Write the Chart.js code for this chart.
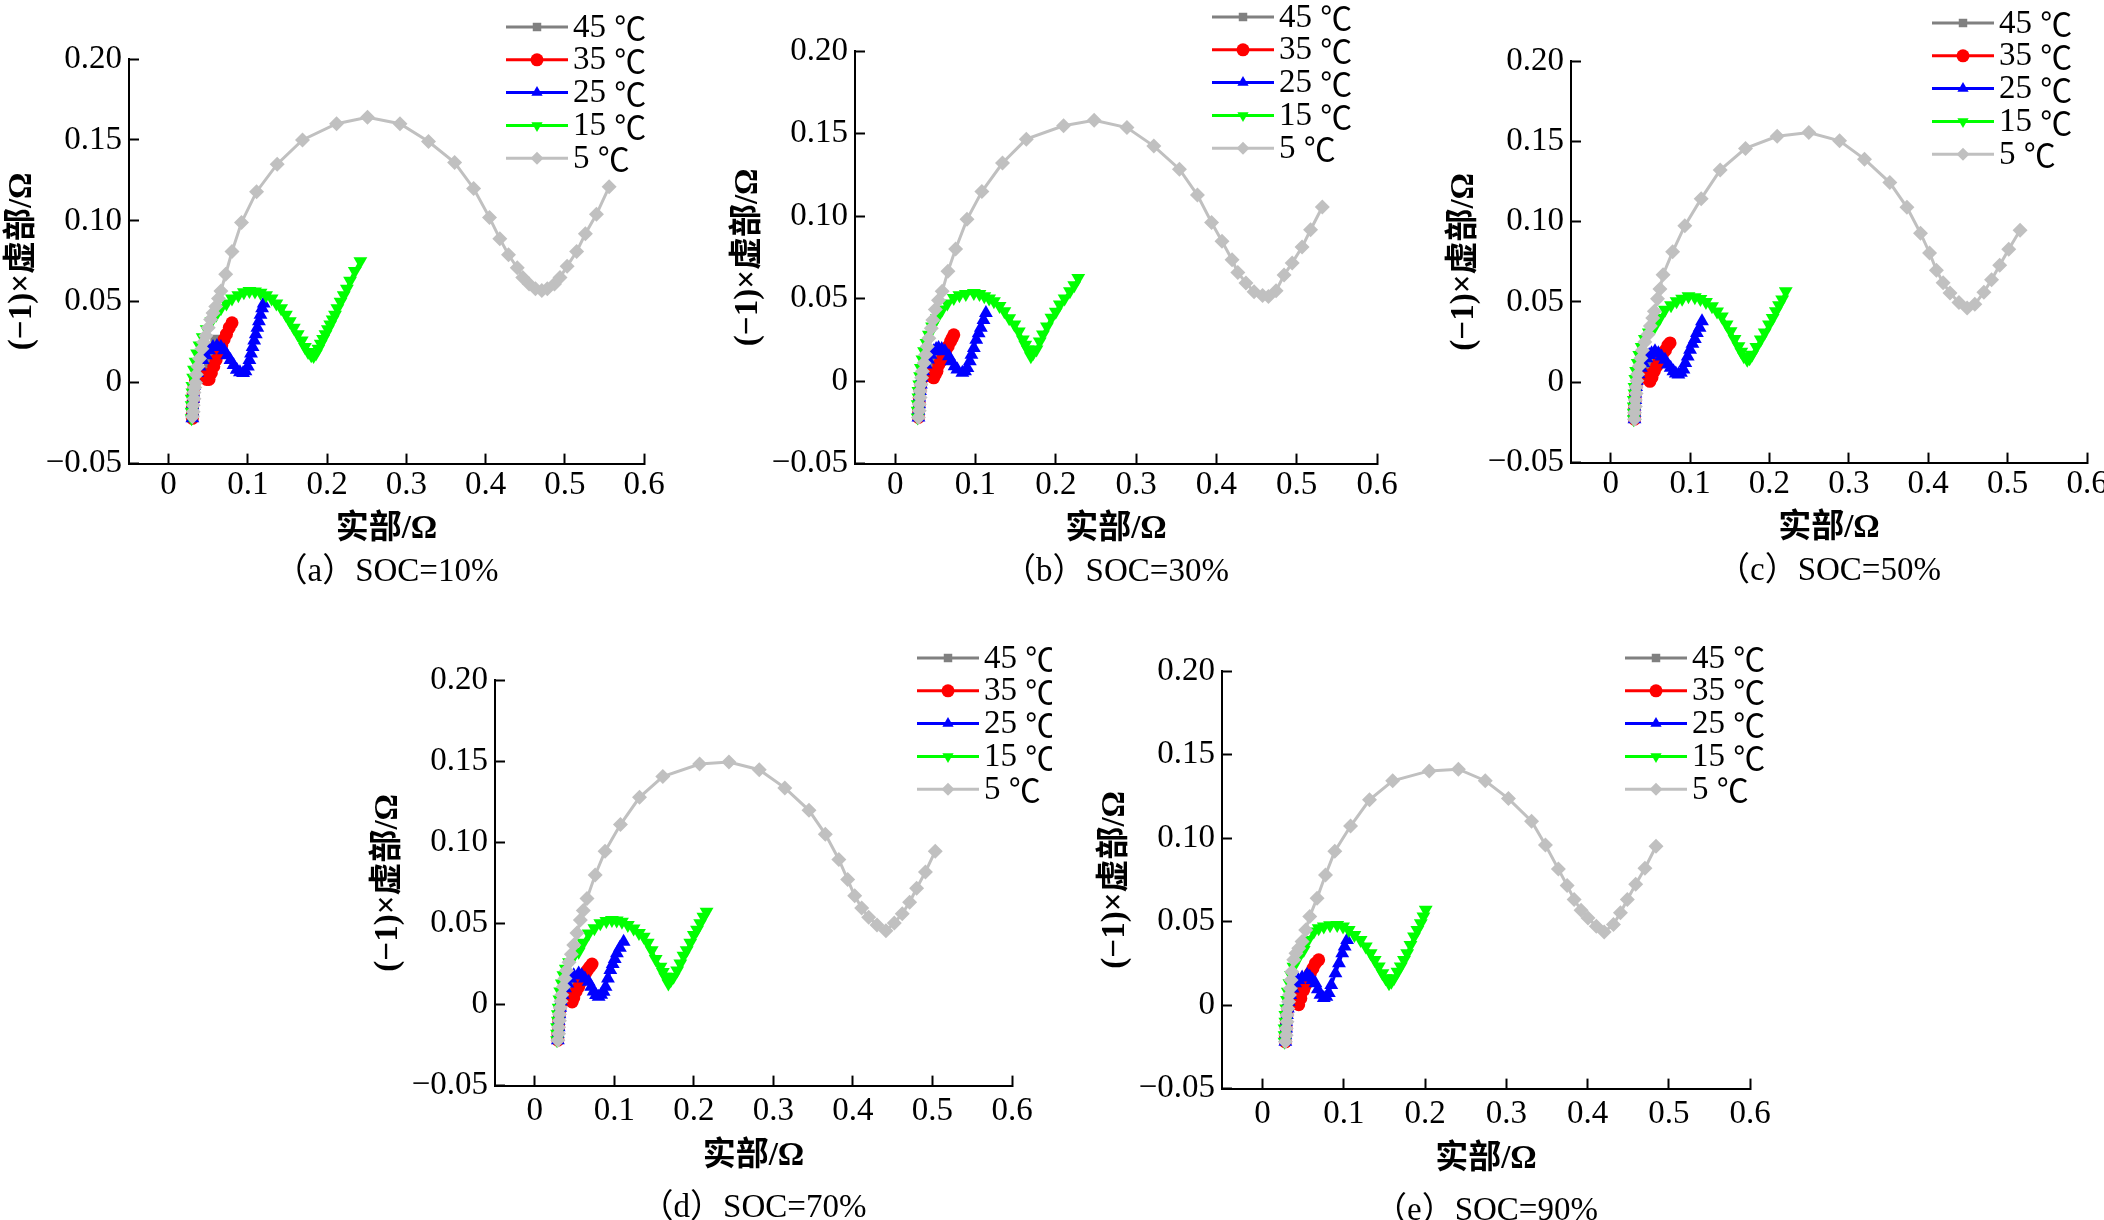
<!DOCTYPE html>
<html lang="zh">
<head>
<meta charset="utf-8">
<title>不同SOC下的阻抗谱</title>
<script src="https://cdn.jsdelivr.net/npm/chart.js@4.4.1/dist/chart.umd.min.js"></script>
<style>
  html, body { margin: 0; padding: 0; background: #fff; }
  body { width: 2104px; height: 1220px; overflow: hidden; position: relative; }
  canvas { position: absolute; }
</style>
</head>
<body>
<canvas id="soc10"></canvas>
<canvas id="soc30"></canvas>
<canvas id="soc50"></canvas>
<canvas id="soc70"></canvas>
<canvas id="soc90"></canvas>
<script>
// legend / axis text
const seriesLabels = ['45 ℃', '35 ℃', '25 ℃', '15 ℃', '5 ℃'];
const captions = ['（a）SOC=10%', '（b）SOC=30%', '（c）SOC=50%', '（d）SOC=70%', '（e）SOC=90%'];
const xTicks = [0, 0.1, 0.2, 0.3, 0.4, 0.5, 0.6];
const xTickLabels = ['0', '0.1', '0.2', '0.3', '0.4', '0.5', '0.6'];
const yTicks = [-0.05, 0, 0.05, 0.1, 0.15, 0.2];
const yTickLabels = ['−0.05', '0', '0.05', '0.10', '0.15', '0.20'];

// SOC = 10%  [real, -imag]
const soc10_45 = [[0.030,-0.022],[0.030,-0.019],[0.030,-0.016],[0.031,-0.012],[0.031,-0.008],[0.032,-0.004],[0.033,-0.001],[0.035,0.002],[0.038,0.004],[0.041,0.004],[0.044,0.003],[0.046,0.004],[0.048,0.007],[0.050,0.011],[0.052,0.015],[0.054,0.019],[0.056,0.022],[0.058,0.025],[0.059,0.027]];
const soc10_35 = [[0.030,-0.022],[0.030,-0.019],[0.030,-0.015],[0.031,-0.011],[0.031,-0.007],[0.032,-0.003],[0.034,0.001],[0.036,0.004],[0.039,0.006],[0.042,0.006],[0.045,0.004],[0.048,0.002],[0.051,0.002],[0.054,0.006],[0.057,0.010],[0.060,0.014],[0.064,0.0185],[0.067,0.023],[0.070,0.0267],[0.073,0.030],[0.0765,0.034],[0.080,0.037]];
const soc10_25 = [[0.030,-0.022],[0.030,-0.018],[0.030,-0.014],[0.031,-0.010],[0.031,-0.006],[0.032,-0.002],[0.034,0.002],[0.036,0.006],[0.039,0.010],[0.043,0.014],[0.047,0.017],[0.051,0.020],[0.056,0.022],[0.061,0.0226],[0.066,0.022],[0.070,0.020],[0.074,0.017],[0.078,0.014],[0.082,0.011],[0.086,0.008],[0.090,0.0065],[0.094,0.006],[0.097,0.007],[0.100,0.010],[0.102,0.014],[0.104,0.018],[0.106,0.022],[0.108,0.026],[0.110,0.030],[0.112,0.034],[0.114,0.038],[0.116,0.042],[0.118,0.046],[0.120,0.049]];
const soc10_15 = [[0.029,-0.022],[0.029,-0.018],[0.029,-0.014],[0.029,-0.010],[0.030,-0.006],[0.030,-0.002],[0.031,0.003],[0.032,0.008],[0.034,0.013],[0.036,0.018],[0.039,0.023],[0.043,0.028],[0.048,0.033],[0.054,0.038],[0.060,0.042],[0.066,0.046],[0.073,0.049],[0.080,0.052],[0.088,0.054],[0.095,0.0558],[0.102,0.0566],[0.109,0.0564],[0.116,0.0556],[0.123,0.054],[0.130,0.052],[0.136,0.049],[0.142,0.046],[0.148,0.042],[0.153,0.038],[0.158,0.034],[0.163,0.030],[0.168,0.026],[0.172,0.022],[0.176,0.019],[0.180,0.017],[0.183,0.0165],[0.186,0.018],[0.189,0.021],[0.192,0.024],[0.195,0.027],[0.198,0.030],[0.201,0.033],[0.204,0.036],[0.207,0.039],[0.210,0.042],[0.213,0.046],[0.217,0.050],[0.221,0.054],[0.225,0.058],[0.229,0.063],[0.235,0.069],[0.242,0.075]];
const soc10_5 = [[0.030,-0.021],[0.031,-0.018],[0.031,-0.014],[0.032,-0.010],[0.032,-0.006],[0.033,-0.003],[0.034,0.000],[0.035,0.005],[0.037,0.010],[0.039,0.015],[0.042,0.021],[0.044,0.025],[0.047,0.029],[0.050,0.034],[0.053,0.039],[0.056,0.043],[0.0595,0.047],[0.063,0.052],[0.066,0.0566],[0.072,0.067],[0.080,0.081],[0.092,0.099],[0.111,0.118],[0.137,0.135],[0.169,0.150],[0.212,0.160],[0.251,0.164],[0.292,0.160],[0.328,0.149],[0.361,0.136],[0.385,0.120],[0.405,0.102],[0.418,0.089],[0.429,0.079],[0.440,0.071],[0.447,0.065],[0.455,0.061],[0.463,0.058],[0.471,0.057],[0.478,0.058],[0.487,0.061],[0.494,0.065],[0.503,0.072],[0.515,0.081],[0.526,0.092],[0.540,0.104],[0.556,0.121]];

// SOC = 30%
const soc30_45 = [[0.029,-0.022],[0.029,-0.018],[0.030,-0.014],[0.030,-0.010],[0.031,-0.006],[0.032,-0.002],[0.034,0.001],[0.036,0.003],[0.039,0.004],[0.042,0.003],[0.044,0.003],[0.046,0.006],[0.048,0.010],[0.050,0.014],[0.052,0.017]];
const soc30_35 = [[0.029,-0.022],[0.029,-0.018],[0.030,-0.014],[0.030,-0.010],[0.031,-0.006],[0.032,-0.002],[0.034,0.002],[0.036,0.005],[0.039,0.006],[0.042,0.005],[0.045,0.003],[0.048,0.002],[0.050,0.004],[0.052,0.006],[0.0544,0.010],[0.057,0.012],[0.060,0.015],[0.0628,0.018],[0.066,0.021],[0.069,0.024],[0.071,0.026],[0.073,0.028]];
const soc30_25 = [[0.029,-0.022],[0.029,-0.018],[0.030,-0.014],[0.030,-0.010],[0.031,-0.006],[0.032,-0.002],[0.033,0.002],[0.035,0.006],[0.038,0.010],[0.041,0.013],[0.044,0.016],[0.048,0.018],[0.051,0.0195],[0.054,0.020],[0.058,0.0195],[0.062,0.018],[0.067,0.015],[0.070,0.012],[0.074,0.009],[0.0774,0.007],[0.0837,0.005],[0.087,0.006],[0.090,0.008],[0.093,0.012],[0.095,0.016],[0.098,0.020],[0.101,0.025],[0.104,0.029],[0.1067,0.0323],[0.110,0.037],[0.113,0.0413]];
const soc30_15 = [[0.028,-0.022],[0.028,-0.018],[0.028,-0.014],[0.029,-0.010],[0.029,-0.006],[0.030,-0.002],[0.031,0.003],[0.032,0.008],[0.034,0.013],[0.036,0.018],[0.039,0.023],[0.042,0.028],[0.046,0.033],[0.052,0.038],[0.0586,0.0433],[0.065,0.047],[0.073,0.0504],[0.080,0.052],[0.088,0.0528],[0.098,0.0534],[0.105,0.0528],[0.111,0.0514],[0.117,0.050],[0.123,0.0484],[0.130,0.0455],[0.136,0.0423],[0.142,0.038],[0.1485,0.0343],[0.154,0.030],[0.159,0.0252],[0.162,0.022],[0.165,0.0192],[0.169,0.0151],[0.172,0.017],[0.176,0.0192],[0.180,0.024],[0.184,0.0282],[0.189,0.033],[0.1946,0.0383],[0.200,0.042],[0.205,0.0464],[0.211,0.050],[0.2176,0.0544],[0.223,0.058],[0.228,0.0625]];
const soc30_5 = [[0.029,-0.022],[0.030,-0.018],[0.030,-0.014],[0.031,-0.010],[0.031,-0.006],[0.032,-0.002],[0.033,0.002],[0.034,0.006],[0.036,0.011],[0.038,0.016],[0.040,0.021],[0.042,0.026],[0.045,0.032],[0.047,0.037],[0.050,0.0433],[0.054,0.049],[0.0586,0.0544],[0.0657,0.0665],[0.0753,0.080],[0.0895,0.098],[0.108,0.1148],[0.1337,0.1321],[0.1633,0.1466],[0.2097,0.1547],[0.2478,0.158],[0.2886,0.1536],[0.3221,0.1424],[0.354,0.1284],[0.3764,0.1127],[0.394,0.0961],[0.407,0.0847],[0.4195,0.0735],[0.4267,0.0658],[0.4368,0.0595],[0.4469,0.0541],[0.4575,0.0518],[0.4648,0.0513],[0.4743,0.0548],[0.4843,0.0642],[0.4944,0.0716],[0.5067,0.0812],[0.5173,0.0917],[0.5319,0.1055]];

// SOC = 50%
const soc50_45 = [[0.030,-0.023],[0.030,-0.019],[0.030,-0.015],[0.031,-0.011],[0.031,-0.007],[0.032,-0.003],[0.034,0.001],[0.036,0.003],[0.039,0.004],[0.042,0.003],[0.044,0.002],[0.046,0.005],[0.047,0.008],[0.048,0.011],[0.050,0.015]];
const soc50_35 = [[0.030,-0.023],[0.030,-0.019],[0.030,-0.015],[0.031,-0.011],[0.031,-0.007],[0.032,-0.003],[0.034,0.001],[0.036,0.004],[0.039,0.005],[0.042,0.005],[0.045,0.003],[0.0494,0.0006],[0.052,0.003],[0.055,0.007],[0.058,0.010],[0.061,0.013],[0.0635,0.016],[0.0663,0.0183],[0.069,0.020],[0.072,0.023],[0.0748,0.0245]];
const soc50_25 = [[0.030,-0.023],[0.030,-0.019],[0.030,-0.015],[0.031,-0.011],[0.031,-0.007],[0.032,-0.003],[0.033,0.001],[0.035,0.005],[0.038,0.009],[0.041,0.012],[0.045,0.015],[0.0485,0.017],[0.0515,0.018],[0.0558,0.0193],[0.060,0.018],[0.064,0.016],[0.0684,0.0141],[0.072,0.011],[0.0755,0.009],[0.079,0.0068],[0.082,0.0055],[0.0853,0.0048],[0.0885,0.006],[0.0917,0.0079],[0.094,0.012],[0.097,0.016],[0.100,0.0203],[0.103,0.024],[0.106,0.027],[0.1086,0.0307],[0.112,0.034],[0.115,0.038]];
const soc50_15 = [[0.029,-0.023],[0.029,-0.019],[0.029,-0.015],[0.029,-0.011],[0.030,-0.007],[0.030,-0.003],[0.031,0.002],[0.032,0.007],[0.034,0.012],[0.036,0.017],[0.039,0.022],[0.043,0.027],[0.048,0.031],[0.0558,0.0349],[0.062,0.040],[0.0684,0.0452],[0.076,0.048],[0.083,0.0504],[0.090,0.052],[0.098,0.0535],[0.106,0.053],[0.113,0.0519],[0.120,0.050],[0.1276,0.0473],[0.134,0.044],[0.140,0.041],[0.146,0.036],[0.151,0.0317],[0.156,0.027],[0.161,0.0224],[0.1645,0.019],[0.1677,0.0162],[0.172,0.0141],[0.175,0.015],[0.178,0.0172],[0.1835,0.022],[0.189,0.0266],[0.194,0.031],[0.1994,0.0359],[0.204,0.040],[0.208,0.0442],[0.212,0.048],[0.216,0.0515],[0.2205,0.0566]];
const soc50_5 = [[0.030,-0.023],[0.030,-0.019],[0.031,-0.015],[0.031,-0.011],[0.032,-0.007],[0.032,-0.003],[0.033,0.001],[0.034,0.005],[0.036,0.010],[0.038,0.015],[0.040,0.020],[0.043,0.025],[0.047,0.0297],[0.050,0.035],[0.053,0.040],[0.055,0.0442],[0.059,0.052],[0.062,0.058],[0.066,0.067],[0.078,0.0812],[0.0934,0.0975],[0.114,0.1143],[0.1379,0.1321],[0.1698,0.1456],[0.2097,0.1531],[0.2496,0.1555],[0.2883,0.1503],[0.3197,0.1389],[0.3516,0.1243],[0.3732,0.1089],[0.3903,0.0928],[0.4017,0.0805],[0.4103,0.0698],[0.4188,0.062],[0.4274,0.0556],[0.4387,0.0497],[0.449,0.0462],[0.4587,0.0485],[0.4701,0.0561],[0.4798,0.0639],[0.49,0.0729],[0.5014,0.0828],[0.5157,0.0947]];

// SOC = 70%
const soc70_45 = [[0.029,-0.022],[0.029,-0.018],[0.030,-0.014],[0.030,-0.010],[0.031,-0.006],[0.032,-0.002],[0.034,0.001],[0.036,0.003],[0.039,0.004],[0.042,0.003],[0.044,0.002],[0.046,0.005],[0.047,0.008],[0.048,0.011],[0.050,0.015]];
const soc70_35 = [[0.029,-0.022],[0.029,-0.018],[0.030,-0.014],[0.030,-0.010],[0.031,-0.006],[0.032,-0.002],[0.034,0.002],[0.036,0.004],[0.039,0.005],[0.042,0.004],[0.044,0.003],[0.047,0.0016],[0.049,0.004],[0.052,0.008],[0.0552,0.0109],[0.058,0.014],[0.061,0.017],[0.0636,0.0191],[0.066,0.021],[0.069,0.023],[0.072,0.0249]];
const soc70_25 = [[0.029,-0.022],[0.029,-0.018],[0.030,-0.014],[0.030,-0.010],[0.031,-0.006],[0.032,-0.002],[0.033,0.002],[0.035,0.006],[0.038,0.010],[0.041,0.013],[0.045,0.016],[0.049,0.018],[0.0552,0.0191],[0.059,0.018],[0.063,0.016],[0.0678,0.014],[0.071,0.011],[0.074,0.008],[0.077,0.0058],[0.0803,0.0047],[0.0835,0.006],[0.0866,0.0078],[0.089,0.011],[0.092,0.016],[0.095,0.0212],[0.098,0.025],[0.1005,0.028],[0.1033,0.0315],[0.107,0.035],[0.1117,0.0387]];
const soc70_15 = [[0.028,-0.022],[0.028,-0.018],[0.028,-0.014],[0.029,-0.010],[0.029,-0.006],[0.030,-0.002],[0.031,0.003],[0.032,0.008],[0.034,0.013],[0.036,0.018],[0.039,0.022],[0.043,0.026],[0.048,0.029],[0.0552,0.0325],[0.061,0.038],[0.0678,0.0438],[0.075,0.047],[0.0824,0.050],[0.090,0.0515],[0.097,0.052],[0.103,0.0517],[0.1096,0.051],[0.117,0.049],[0.1243,0.0469],[0.131,0.044],[0.137,0.0418],[0.142,0.038],[0.147,0.0335],[0.152,0.028],[0.158,0.0233],[0.161,0.020],[0.164,0.0171],[0.168,0.013],[0.171,0.015],[0.1745,0.0171],[0.179,0.021],[0.183,0.0253],[0.187,0.030],[0.191,0.0335],[0.1955,0.038],[0.200,0.0428],[0.204,0.046],[0.208,0.050],[0.212,0.054],[0.216,0.0572]];
const soc70_5 = [[0.029,-0.022],[0.030,-0.018],[0.030,-0.014],[0.031,-0.010],[0.031,-0.006],[0.032,-0.002],[0.033,0.002],[0.034,0.006],[0.036,0.011],[0.038,0.016],[0.040,0.021],[0.043,0.026],[0.046,0.031],[0.049,0.0366],[0.053,0.044],[0.0573,0.052],[0.061,0.058],[0.0657,0.0654],[0.076,0.0798],[0.0884,0.0945],[0.1077,0.1109],[0.1317,0.1277],[0.161,0.1405],[0.2073,0.1482],[0.2441,0.1494],[0.2822,0.1447],[0.3144,0.1335],[0.3448,0.1197],[0.3653,0.105],[0.3823,0.0894],[0.3934,0.077],[0.4022,0.067],[0.411,0.0595],[0.4198,0.0537],[0.4303,0.049],[0.4415,0.0455],[0.452,0.0502],[0.462,0.056],[0.4713,0.063],[0.4801,0.0716],[0.4912,0.0817],[0.5035,0.0945]];

// SOC = 90%
const soc90_45 = [[0.028,-0.022],[0.028,-0.018],[0.029,-0.014],[0.029,-0.010],[0.030,-0.006],[0.031,-0.002],[0.033,0.001],[0.035,0.003],[0.038,0.004],[0.041,0.003],[0.043,0.002],[0.044,0.005],[0.045,0.008],[0.046,0.011],[0.047,0.014]];
const soc90_35 = [[0.028,-0.022],[0.028,-0.018],[0.029,-0.014],[0.029,-0.010],[0.030,-0.006],[0.031,-0.002],[0.033,0.002],[0.035,0.004],[0.038,0.005],[0.041,0.003],[0.0444,0.0002],[0.047,0.004],[0.0506,0.009],[0.053,0.012],[0.056,0.016],[0.0588,0.0191],[0.062,0.022],[0.065,0.025],[0.069,0.0271]];
const soc90_25 = [[0.028,-0.022],[0.028,-0.018],[0.029,-0.014],[0.029,-0.010],[0.030,-0.006],[0.031,-0.002],[0.032,0.002],[0.034,0.006],[0.037,0.010],[0.040,0.013],[0.044,0.015],[0.0486,0.0165],[0.0547,0.0181],[0.058,0.017],[0.0615,0.015],[0.065,0.0131],[0.068,0.0095],[0.0712,0.0062],[0.0753,0.0042],[0.0785,0.005],[0.0815,0.0072],[0.0845,0.012],[0.0897,0.0191],[0.094,0.025],[0.098,0.031],[0.101,0.035],[0.104,0.039]];
const soc90_15 = [[0.027,-0.022],[0.027,-0.018],[0.027,-0.014],[0.028,-0.010],[0.028,-0.006],[0.029,-0.002],[0.030,0.003],[0.031,0.008],[0.033,0.013],[0.035,0.018],[0.038,0.023],[0.042,0.027],[0.046,0.030],[0.0506,0.033],[0.056,0.039],[0.063,0.044],[0.069,0.046],[0.0753,0.047],[0.083,0.0478],[0.0918,0.048],[0.099,0.047],[0.106,0.045],[0.113,0.042],[0.1206,0.039],[0.127,0.035],[0.133,0.031],[0.138,0.027],[0.143,0.0231],[0.1475,0.019],[0.1514,0.0161],[0.1556,0.0131],[0.1585,0.014],[0.1617,0.0161],[0.166,0.020],[0.170,0.0231],[0.174,0.027],[0.178,0.031],[0.182,0.036],[0.1864,0.041],[0.1905,0.045],[0.1947,0.049],[0.198,0.053],[0.2008,0.057]];
const soc90_5 = [[0.028,-0.022],[0.029,-0.018],[0.029,-0.014],[0.030,-0.010],[0.030,-0.006],[0.031,-0.002],[0.032,0.002],[0.033,0.006],[0.034,0.010],[0.035,0.015],[0.036,0.020],[0.0383,0.0271],[0.041,0.031],[0.0445,0.034],[0.0486,0.038],[0.053,0.045],[0.058,0.053],[0.067,0.064],[0.0774,0.0779],[0.0889,0.0921],[0.1083,0.1072],[0.1316,0.1229],[0.1601,0.1343],[0.2051,0.1402],[0.241,0.1412],[0.2741,0.1343],[0.3026,0.1236],[0.3311,0.1101],[0.3482,0.0958],[0.3641,0.0814],[0.3749,0.0716],[0.3835,0.0632],[0.392,0.0568],[0.4006,0.0522],[0.4108,0.0472],[0.4205,0.0438],[0.4319,0.0483],[0.4405,0.0552],[0.449,0.0632],[0.4593,0.0723],[0.4707,0.0819],[0.4843,0.0951]];

const panelSeries = [
  [soc10_45, soc10_35, soc10_25, soc10_15, soc10_5],
  [soc30_45, soc30_35, soc30_25, soc30_15, soc30_5],
  [soc50_45, soc50_35, soc50_25, soc50_15, soc50_5],
  [soc70_45, soc70_35, soc70_25, soc70_15, soc70_5],
  [soc90_45, soc90_35, soc90_25, soc90_15, soc90_5]
];

// look of each temperature
const seriesStyles = [
  { color: '#808080', pointStyle: 'rect', radius: 6, rotation: 0 },
  { color: '#ff0000', pointStyle: 'circle', radius: 6.5, rotation: 0 },
  { color: '#0000ff', pointStyle: 'triangle', radius: 8, rotation: 0 },
  { color: '#00ff00', pointStyle: 'triangle', radius: 8, rotation: 180 },
  { color: '#c0c0c0', pointStyle: 'rectRot', radius: 7.5, rotation: 0 }
];

// where each plot area sits on the page
const panelBoxes = [
  { id: 'soc10', left: 129, top: 59, right: 644, bottom: 464, rowTop: 0, xH: 88, capPad: 0.8, tickPad: 12, legX: 506, legY: 27 },
  { id: 'soc30', left: 855, top: 51, right: 1377, bottom: 464, rowTop: 0, xH: 88, capPad: 0.8, tickPad: 12, legX: 1212, legY: 17 },
  { id: 'soc50', left: 1571, top: 61, right: 2087, bottom: 463, rowTop: 0, xH: 88, capPad: 0.8, tickPad: 12, legX: 1932, legY: 23 },
  { id: 'soc70', left: 495, top: 680, right: 1012, bottom: 1086, rowTop: 620, xH: 93, capPad: 9.8, tickPad: 16, legX: 917, legY: 658 },
  { id: 'soc90', left: 1222, top: 671, right: 1750, bottom: 1089, rowTop: 620, xH: 93, capPad: 9.8, tickPad: 16, legX: 1625, legY: 658 }
];

const FONT = "'Liberation Serif', 'Noto Sans CJK SC', serif";
const CJK = "'Noto Sans CJK SC', sans-serif";
const Y_W = 130;
const PAD_R = 40;

function drawMarker(ctx, st, x, y) {
  const r = st.radius;
  ctx.beginPath();
  if (st.pointStyle === 'circle') {
    ctx.arc(x, y, r, 0, Math.PI * 2);
  } else if (st.pointStyle === 'rect') {
    const s = r * Math.SQRT1_2;
    ctx.rect(x - s, y - s, 2 * s, 2 * s);
  } else if (st.pointStyle === 'rectRot') {
    ctx.moveTo(x, y - r); ctx.lineTo(x + r, y); ctx.lineTo(x, y + r); ctx.lineTo(x - r, y);
    ctx.closePath();
  } else {
    const d = st.rotation === 180 ? -1 : 1;
    ctx.moveTo(x, y - d * r);
    ctx.lineTo(x + r * 0.866, y + d * r * 0.5);
    ctx.lineTo(x - r * 0.866, y + d * r * 0.5);
    ctx.closePath();
  }
  ctx.fill();
}

// legend drawn as a column in the top right, like the figure
const sideLegend = {
  id: 'sideLegend',
  afterDraw(chart, args, opts) {
    const ctx = chart.ctx;
    ctx.save();
    ctx.textBaseline = 'middle';
    ctx.textAlign = 'left';
    seriesLabels.forEach((lab, i) => {
      const st = seriesStyles[i];
      const y = opts.y + i * opts.step;
      ctx.strokeStyle = st.color;
      ctx.fillStyle = st.color;
      ctx.lineWidth = 3;
      ctx.beginPath();
      ctx.moveTo(opts.x, y);
      ctx.lineTo(opts.x + 62, y);
      ctx.stroke();
      drawMarker(ctx, { ...st, radius: Math.min(st.radius, 6.5) }, opts.x + 31, y);
      // number in serif, the ℃ sign from the CJK font
      const parts = lab.split(' ');
      ctx.fillStyle = '#000';
      ctx.font = '33px ' + FONT;
      const num = parts[0] + ' ';
      ctx.fillText(num, opts.x + 67, y + 1);
      const w = ctx.measureText(num).width;
      ctx.font = '32px ' + CJK;
      ctx.fillText(parts[1], opts.x + 67 + w, y + 1);
    });
    ctx.restore();
  }
};

function makePanel(box, series, caption) {
  const canvas = document.getElementById(box.id);
  const cLeft = box.left - Y_W;
  const cTop = box.rowTop;
  const capH = 33 * 1.2 + box.capPad;
  canvas.width = box.right + PAD_R - cLeft;
  canvas.height = Math.round(box.bottom - cTop + box.xH + capH);
  canvas.style.left = cLeft + 'px';
  canvas.style.top = cTop + 'px';

  const datasets = series.map((pts, i) => {
    const st = seriesStyles[i];
    return {
      label: seriesLabels[i],
      data: pts.map(p => ({ x: p[0], y: p[1] })),
      showLine: true,
      borderColor: st.color,
      backgroundColor: st.color,
      borderWidth: 3,
      pointStyle: st.pointStyle,
      pointRadius: st.radius,
      pointRotation: st.rotation,
      pointBorderWidth: 0,
      tension: 0,
      order: 4 - i
    };
  });

  const tickFont = { family: FONT, size: 33 };
  const titleFont = { family: FONT, size: 33, weight: 'bold' };
  const gridOpts = { drawOnChartArea: false, drawTicks: true, tickLength: -10, tickWidth: 2, tickColor: '#000' };
  const borderOpts = { display: true, color: '#000', width: 2 };

  new Chart(canvas, {
    type: 'scatter',
    data: { datasets: datasets },
    options: {
      responsive: false,
      animation: false,
      devicePixelRatio: 1,
      events: [],
      layout: { autoPadding: false, padding: { top: box.top - cTop, right: PAD_R, left: 0, bottom: 0 } },
      plugins: {
        legend: { display: false },
        tooltip: { enabled: false },
        title: {
          display: true, position: 'bottom', fullSize: false,
          text: caption, color: '#000',
          font: { family: FONT, size: 33, weight: 'normal' },
          padding: { top: box.capPad, bottom: 0 }
        },
        sideLegend: { x: box.legX - cLeft, y: box.legY - cTop, step: 32.8 }
      },
      scales: {
        x: {
          type: 'linear', min: -0.05, max: 0.6,
          afterBuildTicks: a => { a.ticks = xTicks.map(v => ({ value: v })); },
          afterFit: a => { a.height = box.xH; a.paddingLeft = 0; a.paddingRight = 0; },
          ticks: { callback: (v, i) => xTickLabels[i], color: '#000', font: tickFont, padding: box.tickPad, maxRotation: 0, autoSkip: false },
          grid: gridOpts,
          border: borderOpts,
          title: { display: true, text: '实部/Ω', color: '#000', font: titleFont, padding: { top: 0, bottom: 2 } }
        },
        y: {
          type: 'linear', min: -0.05, max: 0.2,
          afterBuildTicks: a => { a.ticks = yTicks.map(v => ({ value: v })); },
          afterFit: a => { a.width = Y_W; a.paddingTop = 0; a.paddingBottom = 0; },
          ticks: { callback: (v, i) => yTickLabels[i], color: '#000', font: tickFont, padding: 17, autoSkip: false },
          grid: gridOpts,
          border: borderOpts,
          title: { display: true, text: '(−1)×虚部/Ω', color: '#000', font: titleFont, padding: { top: 3.2, bottom: 0 } }
        }
      }
    },
    plugins: [sideLegend]
  });
}

panelBoxes.forEach((box, i) => makePanel(box, panelSeries[i], captions[i]));
</script>
</body>
</html>
